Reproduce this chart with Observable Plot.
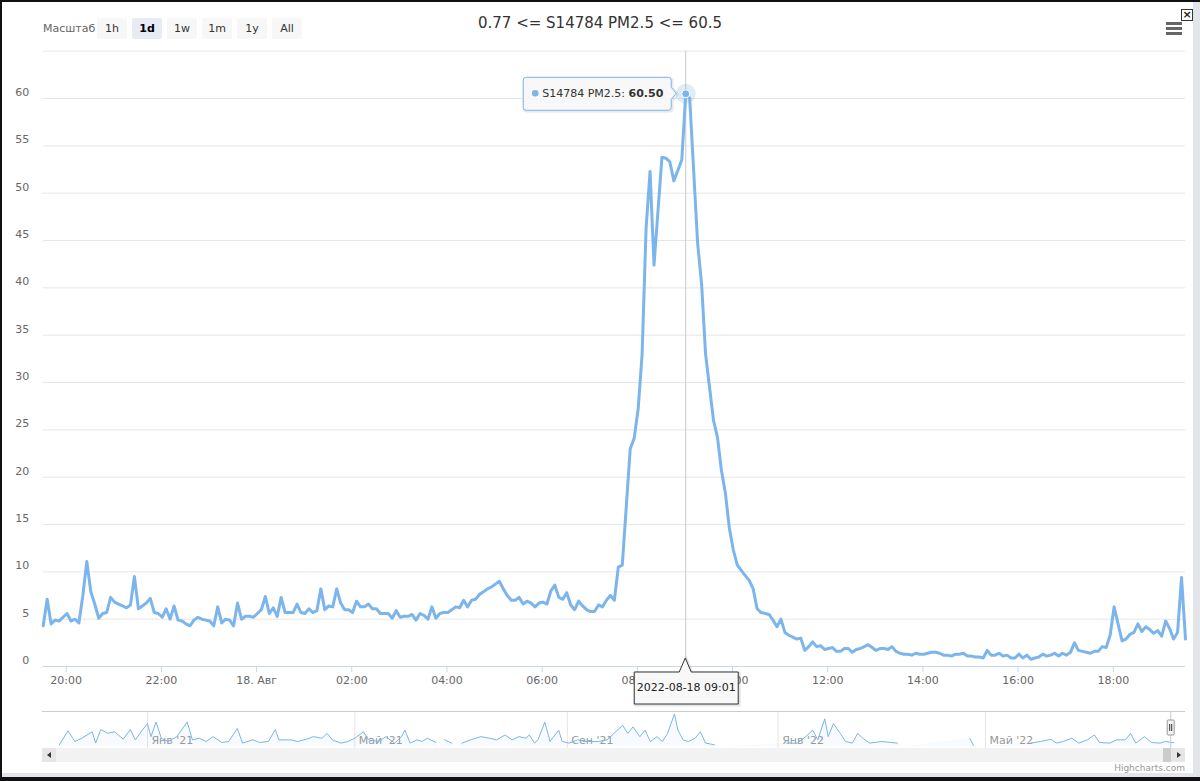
<!DOCTYPE html>
<html><head><meta charset="utf-8">
<script src="https://cdn.jsdelivr.net/npm/d3@7"></script>
<script src="https://cdn.jsdelivr.net/npm/@observablehq/plot@0.6"></script>
<style>
body{margin:0;background:#fff;}
#frame{position:relative;width:1200px;height:781px;overflow:hidden;background:#fff;font-family:"DejaVu Sans",sans-serif;}
.abs{position:absolute;}
#bTop{left:0;top:0;width:1200px;height:2px;background:#111;}
#bLeft{left:0;top:0;width:2px;height:781px;background:#111;}
#bBot{left:0;top:777px;width:1200px;height:4px;background:#111;}
#bBotG{left:2px;top:773px;width:1198px;height:4px;background:#e4e5ea;}
#bRight{left:1193px;top:2px;width:7px;height:775px;background:#e4e5ea;}
#title{left:0;top:14px;width:1200px;text-align:center;font-size:15px;color:#333;}
#zoomLbl{left:43px;top:22px;font-size:11px;color:#666;}
.btn{top:18px;height:21px;width:30px;background:#f7f7f7;color:#333;font-size:11px;line-height:22px;text-align:center;border-radius:2px;}
.btn.sel{background:#e6ebf5;color:#000;font-weight:bold;}
#closeBox{left:1181px;top:9px;width:10px;height:10px;border:1px solid #333;font-size:11px;line-height:9px;text-align:center;color:#222;font-weight:bold;}
.ham{left:1166px;width:16px;height:3px;background:#666;}
#credit{left:1080px;top:763px;width:105px;text-align:right;font-size:9px;color:#999;}
#track{left:42px;top:748px;width:1143px;height:14px;background:#f2f2f2;}
#btnL{left:42px;top:748px;width:14px;height:14px;background:#e6e6e6;}
#btnR{left:1171px;top:748px;width:14px;height:14px;background:#e6e6e6;}
#thumb{left:1163px;top:748px;width:8px;height:14px;background:#cccccc;}
.arrL{width:0;height:0;border-top:3px solid transparent;border-bottom:3px solid transparent;border-right:4px solid #333;}
.arrR{width:0;height:0;border-top:3px solid transparent;border-bottom:3px solid transparent;border-left:4px solid #333;}
</style></head><body>
<div id="frame">
  <div id="mainHolder" class="abs" style="left:0;top:0;"></div>
  <div id="navHolder" class="abs" style="left:0;top:700px;"></div>
  <div id="track" class="abs"></div>
  <div id="thumb" class="abs"></div>
  <div id="btnL" class="abs"><div class="abs arrL" style="left:5px;top:4px;"></div></div>
  <div id="btnR" class="abs"><div class="abs arrR" style="left:6px;top:4px;"></div></div>
  <div id="title" class="abs"></div>
  <div id="zoomLbl" class="abs"></div>
  <div id="btns"></div>
  <div id="closeBox" class="abs">×</div>
  <div class="abs ham" style="top:22px;"></div>
  <div class="abs ham" style="top:27px;"></div>
  <div class="abs ham" style="top:32px;"></div>
  <div id="credit" class="abs">Highcharts.com</div>
  <div id="bRight" class="abs"></div><div id="bBotG" class="abs"></div>
  <div id="bTop" class="abs"></div><div id="bLeft" class="abs"></div><div id="bBot" class="abs"></div>
</div>
<script>
// ---------- data ----------
const titleText = "0.77 <= S14784 PM2.5 <= 60.5";
const seriesName = "S14784 PM2.5";
const rangeLabel = "Масштаб";
const rangeButtons = ["1h", "1d", "1w", "1m", "1y", "All"];
const selectedButton = "1d";
const startTime = "2022-08-17T19:31:00Z";
const stepMinutes = 5;
const pm25 = [
  4.3, 7.1, 4.5, 4.9, 4.8, 5.2, 5.6, 4.8, 5.0, 4.6,
  7.5, 11.1, 7.9, 6.6, 5.1, 5.6, 5.7, 7.3, 6.8, 6.6,
  6.4, 6.2, 6.5, 9.5, 6.1, 6.4, 6.7, 7.2, 5.7, 5.6,
  5.2, 6.1, 5.0, 6.4, 4.9, 4.8, 4.5, 4.3, 4.9, 5.2,
  5.0, 4.9, 4.8, 4.3, 6.3, 4.6, 5.0, 4.9, 4.3, 6.7,
  5.0, 5.3, 5.3, 5.2, 5.6, 6.0, 7.4, 5.6, 6.2, 5.3,
  7.3, 5.7, 5.7, 5.7, 6.6, 5.7, 5.6, 6.1, 5.7, 5.9,
  8.2, 6.0, 6.4, 6.3, 8.2, 6.7, 6.0, 6.0, 5.7, 6.9,
  6.3, 6.3, 6.6, 6.1, 6.1, 5.6, 5.6, 5.6, 5.1, 5.9,
  5.2, 5.3, 5.3, 5.5, 4.9, 5.6, 5.4, 5.0, 6.3, 5.1,
  5.6, 5.7, 5.7, 6.0, 6.3, 6.2, 7.0, 6.3, 7.0, 7.1,
  7.6, 7.9, 8.2, 8.4, 8.7, 9.0, 8.2, 7.5, 7.0, 7.0,
  7.3, 6.6, 6.9, 6.7, 6.3, 6.7, 6.8, 6.6, 8.0, 8.6,
  7.3, 7.1, 7.8, 6.5, 6.0, 6.9, 6.4, 6.0, 5.8, 5.8,
  6.5, 6.3, 7.0, 7.5, 7.0, 10.5, 10.7, null, 23.0, 24.1,
  27.2, 33.0, 46.3, 52.3, 42.4, null, 53.8, 53.7, 53.3, 51.3,
  null, 53.5, 60.5, 60.0, null, 44.7, 40.4, 33.0, 29.5, 26.0,
  24.2, 20.7, 18.3, 14.6, 12.3, 10.7, null, 9.6, 9.1, 8.2,
  6.1, 5.7, 5.6, 5.5, 4.9, 4.2, 5.0, 3.6, 3.3, 3.1,
  2.9, 3.0, 1.7, 2.1, 2.6, 2.1, 2.2, 1.8, 1.9, 2.0,
  1.6, 1.6, 1.9, 1.9, 1.5, 1.8, 1.9, 2.1, 2.3, 2.0,
  1.7, 1.9, 1.9, 1.8, 2.1, 1.6, 1.4, 1.3, 1.3, 1.2,
  1.4, 1.3, 1.3, 1.4, 1.5, 1.5, 1.4, 1.2, 1.2, 1.1,
  1.3, 1.3, 1.4, 1.1, 1.1, 1.0, 1.0, 0.9, 1.7, 1.2,
  1.2, 1.4, 1.1, 1.2, 0.9, 0.9, 1.3, 0.9, 1.2, 0.77,
  0.9, 1.0, 1.3, 1.1, 1.2, 1.4, 1.1, 1.4, 1.2, 1.5,
  2.5, 1.7, 1.6, 1.5, 1.4, 1.6, 1.6, 2.1, 2.0, 3.3,
  6.3, null, 2.7, 2.9, 3.4, 3.6, 4.5, 3.7, 4.2, 3.9,
  3.5, 3.8, 3.2, 4.8, 4.0, 2.9, 3.6, 9.4, 2.9
];
const yTicks = [0, 5, 10, 15, 20, 25, 30, 35, 40, 45, 50, 55, 60];
const yGrid = [0, 5, 10, 15, 20, 25, 30, 35, 40, 45, 50, 55, 60, 65];
const xTickTimes = ["2022-08-17T20:00Z","2022-08-17T22:00Z","2022-08-18T00:00Z","2022-08-18T02:00Z","2022-08-18T04:00Z","2022-08-18T06:00Z","2022-08-18T08:00Z","2022-08-18T10:00Z","2022-08-18T12:00Z","2022-08-18T14:00Z","2022-08-18T16:00Z","2022-08-18T18:00Z"];
const xTickLabels = ["20:00","22:00","18. Авг","02:00","04:00","06:00","08:00","10:00","12:00","14:00","16:00","18:00"];
const crosshairLabel = "2022-08-18 09:01";

// navigator (long-range overview)
const navDates = ["2020-11-11","2020-11-16","2020-11-20","2020-11-24","2020-11-30","2020-12-02","2020-12-05","2020-12-09","2020-12-13","2020-12-18","2020-12-22","2020-12-25","2020-12-29","2021-01-01","2021-01-03","2021-01-06","2021-01-09","2021-01-13","2021-01-18","2021-01-24","2021-01-27","2021-01-31","2021-02-04","2021-02-08","2021-02-13","2021-02-17","2021-02-22","2021-02-25","2021-03-03","2021-03-07","2021-03-12","2021-03-16","2021-03-18","2021-03-25","2021-03-29","2021-04-03","2021-04-07","2021-04-12","2021-04-15","2021-04-18","2021-04-23","2021-04-27","2021-05-01","2021-05-06","2021-05-09","2021-05-15","2021-05-19","2021-05-24","2021-05-28","2021-05-30","2021-06-02","2021-06-06","2021-06-09","2021-06-12","2021-06-17","2021-06-19","2021-06-22","2021-06-26","2021-06-29","2021-07-02","2021-07-07","2021-07-13","2021-07-18","2021-07-22","2021-07-27","2021-07-31","2021-08-04","2021-08-08","2021-08-10","2021-08-13","2021-08-15","2021-08-19","2021-08-22","2021-08-27","2021-08-29","2021-09-02","2021-09-07","2021-09-11","2021-09-19","2021-09-24","2021-09-28","2021-10-03","2021-10-06","2021-10-09","2021-10-13","2021-10-16","2021-10-19","2021-10-23","2021-10-26","2021-10-29","2021-11-02","2021-11-04","2021-11-07","2021-11-10","2021-11-14","2021-11-17","2021-11-20","2021-11-25","2021-12-01","2022-01-06","2022-01-12","2022-01-17","2022-01-21","2022-01-24","2022-01-28","2022-01-30","2022-02-02","2022-02-06","2022-02-09","2022-02-13","2022-02-16","2022-02-19","2022-02-23","2022-03-02","2022-03-07","2022-03-11","2022-03-15","2022-04-22","2022-04-24","2022-04-26","2022-05-27","2022-06-02","2022-06-08","2022-06-11","2022-06-15","2022-06-20","2022-06-24","2022-06-29","2022-07-03","2022-07-06","2022-07-12","2022-07-16","2022-07-21","2022-07-24","2022-07-27","2022-08-01","2022-08-05","2022-08-10","2022-08-13","2022-08-18"];
const navValues = [4.2,30.0,10.2,16.2,28.2,7.2,32.4,25.2,28.2,14.4,32.4,13.2,31.2,43.2,19.2,46.2,16.2,10.2,19.2,46.2,13.2,16.2,10.2,19.2,8.4,10.2,34.2,7.2,13.2,8.4,10.2,32.4,13.2,13.2,10.2,14.4,19.2,16.2,25.2,13.2,7.2,10.2,16.2,28.2,13.2,10.2,19.2,7.2,19.2,31.2,7.2,13.2,10.2,16.2,8.4,null,13.2,7.2,null,7.2,13.2,19.2,16.2,13.2,22.2,13.2,19.2,16.2,22.2,7.2,13.2,46.2,10.2,31.2,10.2,7.2,13.2,10.2,10.2,13.2,25.2,40.2,25.2,37.2,19.2,31.2,10.2,19.2,10.2,25.2,61.2,31.2,13.2,10.2,16.2,28.2,7.2,4.2,null,7.2,7.2,19.2,31.2,13.2,52.2,19.2,43.2,25.2,10.2,7.2,25.2,16.2,7.2,10.2,8.4,7.2,null,16.0,3.0,null,7.2,10.2,14.4,7.2,10.2,16.2,7.2,13.2,22.2,8.4,7.2,13.2,13.2,25.2,7.2,19.2,8.4,7.2,10.2,8.0];
const navTickDates = ["2021-01-01","2021-05-01","2021-09-01","2022-01-01","2022-05-01"];
const navTickLabels = ["Янв '21","Май '21","Сен '21","Янв '22","Май '22"];

// ---------- header ----------
document.getElementById("title").textContent = titleText;
document.getElementById("zoomLbl").textContent = rangeLabel;
const btnLeft = [97, 132, 167, 202, 237, 272];
rangeButtons.forEach((b, i) => {
  const d = document.createElement("div");
  d.className = "abs btn" + (b === selectedButton ? " sel" : "");
  d.style.left = btnLeft[i] + "px";
  d.textContent = b;
  document.getElementById("btns").appendChild(d);
});

// ---------- main chart ----------
const t0 = new Date(startTime).getTime();
const mainData = pm25.map((v, i) => ({t: new Date(t0 + i * stepMinutes * 60000), v}))
  .filter(d => d.v != null);
const xDomain = [mainData[0].t, mainData[mainData.length - 1].t];
const peak = mainData.reduce((a, b) => (b.v > a.v ? b : a));
const tickMap = new Map(xTickTimes.map((s, i) => [+new Date(s), xTickLabels[i]]));

const main = Plot.plot({
  width: 1200, height: 700,
  marginLeft: 42.7, marginRight: 15, marginTop: 50.7, marginBottom: 34,
  style: {fontFamily: "DejaVu Sans", fontSize: "11px", color: "#666", background: "transparent", overflow: "visible"},
  x: {type: "utc", domain: xDomain},
  y: {domain: [0, 65]},
  marks: [
    Plot.gridY(yGrid, {stroke: "#e6e6e6", strokeOpacity: 1}),
    Plot.axisY(yTicks, {tickSize: 0, tickPadding: 14, dy: -6, label: null}),
    Plot.ruleY([0], {stroke: "#ccd6eb"}),
    Plot.axisX(xTickTimes.map(s => new Date(s)), {tickSize: 6, tickPadding: 4, stroke: "#ccd6eb", label: null,
      tickFormat: d => tickMap.get(+d)}),
    Plot.ruleX([peak.t], {stroke: "#c8c8c8", strokeWidth: 1}),
    Plot.line(mainData, {x: "t", y: "v", stroke: "#7cb5ec", strokeWidth: 3, strokeLinejoin: "round", strokeLinecap: "round"}),
    Plot.dot([peak], {x: "t", y: "v", r: 10, fill: "#7cb5ec", fillOpacity: 0.25}),
    Plot.dot([peak], {x: "t", y: "v", r: 4, fill: "#7cb5ec", stroke: "#ffffff", strokeWidth: 1})
  ]
});
document.getElementById("mainHolder").appendChild(main);

const sx = main.scale("x"), sy = main.scale("y");
const px = sx.apply(peak.t), py = sy.apply(peak.v);
const svg = d3.select(main);

// tooltip
const bx0 = px - 162, bx1 = px - 14, byT = py - 16, byB = py + 17;
const tipPath = `M${bx0+3},${byT} H${bx1-3} Q${bx1},${byT} ${bx1},${byT+3} V${py-6} L${px-9},${py} L${bx1},${py+6} V${byB-3} Q${bx1},${byB} ${bx1-3},${byB} H${bx0+3} Q${bx0},${byB} ${bx0},${byB-3} V${byT+3} Q${bx0},${byT} ${bx0+3},${byT} Z`;
const tg = svg.append("g");
tg.append("path").attr("d", tipPath).attr("transform", "translate(1,1)")
  .attr("fill", "none").attr("stroke", "rgba(0,0,0,0.08)").attr("stroke-width", 3);
tg.append("path").attr("d", tipPath).attr("fill", "rgba(247,247,247,0.92)").attr("stroke", "#7cb5ec").attr("stroke-width", 1);
tg.append("circle").attr("cx", bx0 + 12).attr("cy", py).attr("r", 3.3).attr("fill", "#7cb5ec");
const tt = tg.append("text").attr("x", bx0 + 19).attr("y", py + 4).attr("text-anchor", "start")
  .attr("font-family", "DejaVu Sans").attr("font-size", 11).attr("fill", "#333");
tt.append("tspan").text(seriesName + ": ");
tt.append("tspan").attr("font-weight", "bold").text(peak.v.toFixed(2));

// crosshair label
const axisY0 = sy.apply(0);
const cy0 = axisY0 - 1, cyT = cy0 + 7;
const lx0 = px - 51, lx1 = px + 53, lyB = cyT + 32;
const labPath = `M${lx0},${cyT} H${px-6} L${px},${cy0-7} L${px+6},${cyT} H${lx1} V${lyB} H${lx0} Z`;
const cg = svg.append("g");
cg.append("path").attr("d", labPath).attr("transform", "translate(1,1)")
  .attr("fill", "none").attr("stroke", "rgba(0,0,0,0.1)").attr("stroke-width", 3);
cg.append("path").attr("d", labPath).attr("fill", "#f8f8f8").attr("stroke", "#333").attr("stroke-width", 1);
cg.append("text").attr("x", px + 1).attr("y", cyT + 19).attr("text-anchor", "middle")
  .attr("font-family", "DejaVu Sans").attr("font-size", 11).attr("fill", "#222").text(crosshairLabel);

// ---------- navigator ----------
const navData = navDates.map((d, i) => ({t: new Date(d + "T00:00Z"), v: navValues[i]}));
const navEnd = xDomain[1];
const navTickMap = new Map(navTickDates.map((s, i) => [+new Date(s + "T00:00Z"), navTickLabels[i]]));
const nav = Plot.plot({
  width: 1200, height: 81,
  marginLeft: 55.4, marginRight: 25.3, marginTop: 11, marginBottom: 33,
  style: {fontFamily: "DejaVu Sans", fontSize: "11px", color: "#666", background: "transparent", overflow: "visible"},
  x: {type: "utc", domain: [new Date("2020-11-09T00:00Z"), navEnd], axis: null},
  y: {domain: [0, 62], range: [46.5, 13], axis: null},
  marks: [
    Plot.ruleX(navTickDates.map(s => new Date(s + "T00:00Z")), {stroke: "#e6e6e6"}),
    Plot.text(navTickDates.map(s => new Date(s + "T00:00Z")), {x: d => d, frameAnchor: "bottom", dy: -5, dx: 4,
      textAnchor: "start", text: d => navTickMap.get(+d), fill: "#999", fontSize: 11}),
    Plot.areaY(navData, {x: "t", y: "v", fill: "#7cb5ec", fillOpacity: 0.06}),
    Plot.line(navData, {x: "t", y: "v", stroke: "#7cb5ec", strokeWidth: 1})
  ]
});
document.getElementById("navHolder").appendChild(nav);
const nsx = nav.scale("x");
const hx = nsx.apply(navEnd) - 4;
const ns = d3.select(nav);
ns.append("line").attr("x1", 42).attr("x2", 1185).attr("y1", 11.5).attr("y2", 11.5).attr("stroke", "#cccccc");
ns.append("line").attr("x1", hx).attr("x2", hx).attr("y1", 11).attr("y2", 48).attr("stroke", "#cccccc");
ns.append("rect").attr("x", hx - 3.5).attr("y", 20).attr("width", 7).attr("height", 15).attr("rx", 1)
  .attr("fill", "#f2f2f2").attr("stroke", "#999");
ns.append("line").attr("x1", hx - 1).attr("x2", hx - 1).attr("y1", 24).attr("y2", 31).attr("stroke", "#333");
ns.append("line").attr("x1", hx + 1).attr("x2", hx + 1).attr("y1", 24).attr("y2", 31).attr("stroke", "#333");
</script>
</body></html>
